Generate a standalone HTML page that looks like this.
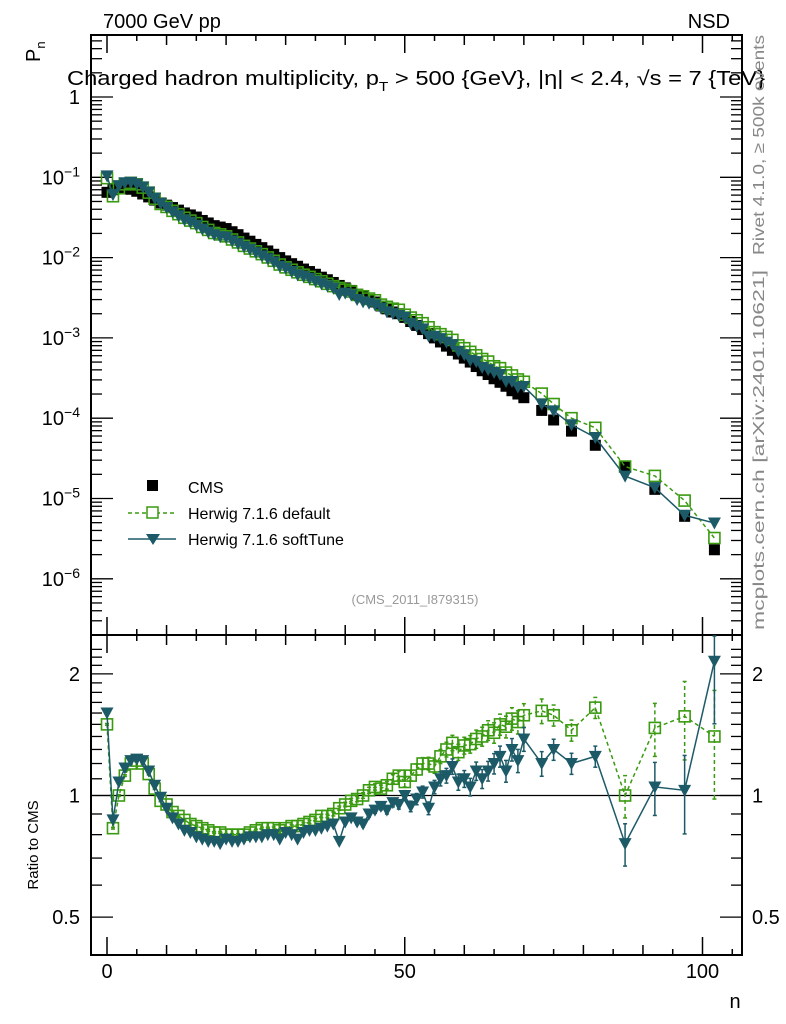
<!DOCTYPE html>
<html><head><meta charset="utf-8"><style>
body{margin:0;background:#fff}
svg{display:block;font-family:"Liberation Sans",sans-serif}
</style></head><body>
<svg id="c" width="786" height="1024" viewBox="0 0 786 1024" xmlns="http://www.w3.org/2000/svg">
<text x="103" y="28" font-size="20">7000 GeV pp</text>
<text x="730" y="28" font-size="20" text-anchor="end">NSD</text>
<text transform="translate(40,62) rotate(-90)" font-size="20">P<tspan font-size="13" dy="5">n</tspan></text>
<text x="67" y="85" font-size="20" textLength="698" lengthAdjust="spacingAndGlyphs">Charged hadron multiplicity, p<tspan font-size="13" dy="6">T</tspan><tspan dy="-6"> &gt; 500 {GeV}, |η| &lt; 2.4, √s = 7 {TeV}</tspan></text>
<text transform="translate(764,255) rotate(-90)" font-size="16" fill="#888" textLength="220" lengthAdjust="spacingAndGlyphs">Rivet 4.1.0, ≥ 500k events</text>
<text transform="translate(764,630) rotate(-90)" font-size="16" fill="#888" textLength="360" lengthAdjust="spacingAndGlyphs">mcplots.cern.ch [arXiv:2401.10621]</text>
<text x="415" y="604" font-size="13" fill="#999" text-anchor="middle">(CMS_2011_I879315)</text>
<text transform="translate(38,845) rotate(-90)" font-size="15" text-anchor="middle">Ratio to CMS</text>
<text x="735" y="1008" font-size="20" text-anchor="middle">n</text>
<g id="plots"></g>
<g>
<rect x="147" y="480" width="11" height="11" fill="#000"/>
<text x="188" y="493" font-size="16">CMS</text>
<line x1="128" y1="513" x2="176" y2="513" stroke="#3a9a10" stroke-width="1.5" stroke-dasharray="4,3"/>
<rect x="147" y="507" width="11" height="11" fill="#fff" stroke="#3a9a10" stroke-width="1.5"/>
<text x="188" y="519" font-size="16">Herwig 7.1.6 default</text>
<line x1="128" y1="539" x2="176" y2="539" stroke="#1d5a68" stroke-width="1.5"/>
<polygon points="146,534 160,534 153,545" fill="#1d5a68"/>
<text x="188" y="545" font-size="16">Herwig 7.1.6 softTune</text>
</g>
</svg>
<script>
const nVals=[0,1,2,3,4,5,6,7,8,9,10,11,12,13,14,15,16,17,18,19,20,21,22,23,24,25,26,27,28,29,30,31,32,33,34,35,36,37,38,39,40,41,42,43,44,45,46,47,48,49,50,51,52,53,54,55,56,57,58,59,60,61,62,63,64,65,66,67,68,69,70,73,75,78,82,87,92,97,102];
const cmsVals=[.065,.07,.073,.073,.071,.067,.062,.057,.052,.048,.045,.042,.039,.036,.034,.032,.029,.027,.025,.024,.023,.021,.0193,.0175,.016,.0146,.0133,.0121,.011,.01,.0091,.0084,.0078,.0072,.0067,.0062,.0057,.0053,.0049,.0045,.0042,.0039,.0035,.0033,.003,.0028,.0025,.0023,.0021,.002,.0018,.0016,.00143,.00127,.00113,.001,.00089,.00079,.0007,.00063,.00056,.0005,.00044,.00039,.00035,.00031,.00028,.00025,.00022,.0002,.00018,1.25e-4,9.5e-5,6.9e-5,4.6e-5,2.5e-5,1.3e-5,6e-6,2.3e-6];
const defRatio=[1.5,.83,1.0,1.12,1.2,1.22,1.2,1.13,1.04,.97,.95,.91,.89,.87,.85,.84,.83,.82,.81,.81,.8,.8,.8,.8,.81,.82,.83,.83,.83,.82,.83,.84,.84,.85,.86,.87,.89,.89,.9,.93,.95,.97,.98,1.0,1.03,1.05,1.04,1.06,1.1,1.12,1.08,1.12,1.16,1.2,1.2,1.18,1.25,1.3,1.35,1.28,1.33,1.34,1.38,1.4,1.45,1.43,1.5,1.48,1.55,1.52,1.58,1.62,1.58,1.45,1.65,1.0,1.47,1.57,1.4];
const softRatio=[1.6,.87,1.08,1.17,1.22,1.23,1.22,1.15,1.06,.99,.93,.88,.85,.82,.81,.79,.78,.77,.77,.76,.78,.77,.77,.78,.79,.79,.79,.8,.8,.78,.81,.8,.78,.81,.82,.82,.83,.84,.85,.77,.86,.88,.86,.85,.9,.92,.94,.92,.96,.95,1.0,.94,.98,1.02,.93,1.05,1.1,1.12,1.18,1.08,1.1,1.05,1.15,1.1,1.15,1.2,1.25,1.15,1.3,1.22,1.38,1.2,1.3,1.2,1.25,.76,1.05,1.03,2.15];
const relErr=[.005,.005,.005,.005,.005,.005,.005,.005,.005,.005,.005,.005,.005,.005,.005,.005,.005,.005,.005,.005,.006,.006,.006,.006,.006,.006,.006,.006,.007,.007,.007,.008,.008,.008,.009,.009,.01,.01,.011,.012,.013,.014,.015,.016,.017,.018,.02,.022,.024,.026,.028,.03,.032,.034,.036,.038,.04,.042,.044,.046,.048,.05,.052,.054,.056,.058,.06,.062,.064,.066,.068,.07,.06,.06,.06,.12,.15,.22,.3];
const X0=91,X1=742,Y0=35,Y1=635,R1=955;
const xs=n=>107+5.955*n;
const ym=v=>97-80.3*Math.log10(v);
const yr=r=>795.5-404*Math.log10(r);
const NS='http://www.w3.org/2000/svg';
const g=document.getElementById('plots');
function mk(tag,at,parent){const e=document.createElementNS(NS,tag);for(const k in at)e.setAttribute(k,at[k]);(parent||g).appendChild(e);return e;}
let f=mk('rect',{x:X0,y:Y0,width:X1-X0,height:Y1-Y0,fill:'none',stroke:'#000','stroke-width':2});


f=mk('rect',{x:X0,y:Y1,width:X1-X0,height:R1-Y1,fill:'none',stroke:'#000','stroke-width':2});


for(let n=0;n<=105;n+=5){const x=xs(n);const L=(n%50==0)?18:(n%10==0?10:6);
 for(const [yb,dir] of [[Y0,1],[Y1,-1],[Y1,1],[R1,-1]]){const t=mk('line',{x1:x,x2:x,y1:yb,y2:yb+dir*L,stroke:'#000','stroke-width':1.5});
 
 }}
for(const n of [0,50,100]){const t=mk('text',{x:xs(n),y:978,'font-size':20,'text-anchor':'middle'});t.textContent=n;
 
 }
for(let d=1;d>=-7;d--){for(let m=1;m<10;m++){const v=m*Math.pow(10,d);const y=ym(v);if(y<Y0||y>Y1)continue;const L=m==1?22:11;
 for(const [xb,dir] of [[X0,1],[X1,-1]]){const t=mk('line',{x1:xb,x2:xb+dir*L,y1:y,y2:y,stroke:'#000','stroke-width':1.3});
 
 }}}
for(let i=0;i<=6;i++){const y=ym(Math.pow(10,-i));const t=mk('text',{x:80,y:y+7,'font-size':20,'text-anchor':'end'});
 if(i==0)t.textContent='1';else{t.textContent='10';const sp=mk('tspan',{dy:-8,'font-size':14},t);sp.textContent='−'+i;}
 
 }
for(let r=0.4;r<=2.31;r+=0.1){const y=yr(r);if(y<Y1+2||y>R1)continue;const maj=Math.abs(r-0.5)<.01||Math.abs(r-1)<.01||Math.abs(r-2)<.01;const L=maj?22:11;
 for(const [xb,dir] of [[X0,1],[X1,-1]]){const t=mk('line',{x1:xb,x2:xb+dir*L,y1:y,y2:y,stroke:'#000','stroke-width':1.3});
 
 }}
for(const r of [0.5,1,2]){for(const [x,a] of [[80,'end'],[752,'start']]){const t=mk('text',{x:x,y:yr(r)+7,'font-size':20,'text-anchor':a});t.textContent=r;
 
 }}
let ref=mk('line',{x1:X0,x2:X1,y1:yr(1),y2:yr(1),stroke:'#000','stroke-width':1.3});


const GC='#3a9a10',TC='#1d5a68';
const defVals=cmsVals.map((v,i)=>v*defRatio[i]);
const softVals=cmsVals.map((v,i)=>v*softRatio[i]);
function line(vals,yf,col,dash,name,err){let p=mk('polyline',{points:nVals.map((n,i)=>xs(n)+','+yf(vals[i])).join(' '),fill:'none',stroke:col,'stroke-width':1.5,'stroke-dasharray':dash});
 
 
 if(err)nVals.forEach((n,i)=>{const v=vals[i],e=relErr[i]*v;const y1=Math.min(yf(Math.max(v-e,1e-9)),R1),y2=Math.max(yf(v+e),Y1+1);
  const b=mk('line',{x1:xs(n),x2:xs(n),y1:y1,y2:y2,stroke:col,'stroke-width':1.5,'stroke-dasharray':dash});
  
  
  for(const yy of [y1,y2]){const c=mk('line',{x1:xs(n)-2,x2:xs(n)+2,y1:yy,y2:yy,stroke:col,'stroke-width':1.5});
  
  }});}
function squares(vals,yf,fill,stroke,name){nVals.forEach((n,i)=>{const r=mk('rect',{x:xs(n)-5.5,y:yf(vals[i])-5.5,width:11,height:11,fill:fill,stroke:stroke,'stroke-width':1.6});
 
 });}
function tris(vals,yf,name){nVals.forEach((n,i)=>{const x=xs(n),y=yf(vals[i]);const t=mk('polygon',{points:(x-6.5)+','+(y-5.5)+' '+(x+6.5)+','+(y-5.5)+' '+x+','+(y+6.5),fill:TC});
 
 });}
squares(cmsVals,ym,'#000','none','cms-point');
line(defVals,ym,GC,'4,3','default-line',false);
squares(defVals,ym,'none',GC,'default-point');
line(softVals,ym,TC,'none','softtune-line',false);
tris(softVals,ym,'softtune-point');
line(defRatio,yr,GC,'4,3','default-ratio-line',true);
squares(defRatio,yr,'none',GC,'default-ratio-point');
line(softRatio,yr,TC,'none','softtune-ratio-line',true);
tris(softRatio,yr,'softtune-ratio-point');
</script>
</body></html>
